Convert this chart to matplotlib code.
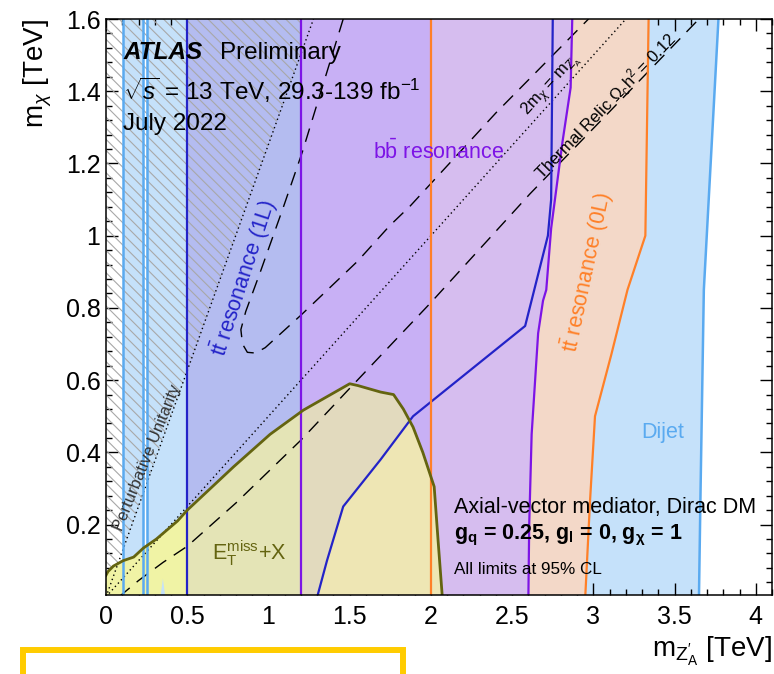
import numpy as np
import matplotlib
matplotlib.use("Agg")
import matplotlib.pyplot as plt
from matplotlib.patches import Polygon, Rectangle
from matplotlib.ticker import MultipleLocator, FuncFormatter

plt.rcParams['font.family'] = ['Liberation Sans', 'DejaVu Sans']
plt.rcParams['mathtext.fontset'] = 'custom'
plt.rcParams['mathtext.rm'] = 'Liberation Sans'
plt.rcParams['mathtext.it'] = 'Liberation Sans:italic'
plt.rcParams['mathtext.bf'] = 'Liberation Sans:bold'
plt.rcParams['hatch.linewidth'] = 0.8

# exclusion boundaries in TeV
# dijet: narrow band at low mass plus the wide band
dijet_band_low = [0.105, 0.23]
dijet_left = 0.25
dijet_right_y = [0.0, 0.3, 0.85, 1.6]
dijet_right_x = [3.65, 3.66, 3.68, 3.77]
dijet_spike_x = [0.335, 0.35, 0.365]
dijet_spike_y = [0.0, 0.05, 0.0]

# ttbar resonance (1L)
tt1l_left = 0.5
tt1l_y = [0.0, 0.05, 0.10, 0.16, 0.25, 0.38, 0.50, 0.75, 1.0, 1.1, 1.6]
tt1l_x = [1.30, 1.33, 1.36, 1.40, 1.46, 1.69, 1.89, 2.58, 2.72, 2.74, 2.75]

# bb resonance
bb_left = 1.2
bb_y = [0.0, 0.2, 0.45, 0.73, 0.82, 0.85, 1.02, 1.26, 1.41, 1.6]
bb_x = [2.60, 2.605, 2.62, 2.66, 2.69, 2.71, 2.74, 2.81, 2.86, 2.87]

# ttbar resonance (0L)
tt0l_left = 2.0
tt0l_y = [0.0, 0.27, 0.5, 0.67, 0.85, 1.0, 1.6]
tt0l_x = [2.95, 2.98, 3.01, 3.11, 3.21, 3.32, 3.34]

# ETmiss + X
met_x = [0.0, 0.012, 0.045, 0.105, 0.17, 0.23, 0.31, 0.44, 0.5, 0.785, 1.01,
         1.215, 1.5, 1.55, 1.69, 1.77, 1.83, 1.89, 1.95, 2.02, 2.045, 2.07]
met_y = [0.06, 0.07, 0.085, 0.10, 0.11, 0.135, 0.16, 0.21, 0.24, 0.36, 0.45,
         0.517, 0.59, 0.585, 0.567, 0.56, 0.52, 0.47, 0.40, 0.305, 0.15, 0.0]

# reference lines
unit_x = [0.0, 1.277]        # perturbative unitarity
unit_y = [0.0, 1.6]
mass_x = [0.0, 3.2]          # 2 m_chi = m_Z'
mass_y = [0.0, 1.6]
relic1_x = [1.46, 1.21, 1.09, 0.95, 0.86, 0.83, 0.84, 0.87, 0.92, 0.98, 1.2,
            1.55, 1.745, 1.874, 2.4, 2.97]
relic1_y = [1.6, 1.234, 1.077, 0.90, 0.79, 0.74, 0.70, 0.677, 0.675, 0.69, 0.78,
            0.93, 1.027, 1.083, 1.34, 1.6]
relic2_x = [0.08, 0.2, 0.35, 0.5, 0.8, 1.2, 1.535, 2.0, 2.61, 3.2, 3.65]
relic2_y = [0.0, 0.045, 0.095, 0.14, 0.26, 0.434, 0.594, 0.815, 1.116, 1.39, 1.6]

c_dijet = '#c5e1fa'
c_1l = '#b4bcf0'
c_bb = '#c8b0f5'
c_0l = '#f3d8c8'
c_0l_bb = '#d6bdef'
c_met = '#f0f3a5'
c_met_1l = '#e4e4b6'
c_met_bb = '#eee6b4'
c_met_bb_1l = '#e2dabe'

l_dijet = '#5aaaf0'
l_1l = '#2323c8'
l_bb = '#7d14e6'
l_0l = '#ff8028'
l_met = '#646410'


def band(left, xs, ys):
    # region between a vertical line and a boundary curve
    return [(left, ys[0])] + list(zip(xs, ys)) + [(left, ys[-1])]


fig = plt.figure(figsize=(7.74, 6.74), dpi=100)
ax = fig.add_axes([0.137, 0.1172, 0.8605, 0.8546])
ax.set_xlim(0, 4.1)
ax.set_ylim(0.005, 1.6)

# fills
ymax = dijet_right_y[-1]
ax.add_patch(Polygon(band(dijet_band_low[0], [dijet_band_low[1]] * 2, [0, ymax]),
                     fc=c_dijet, lw=0, zorder=1))
ax.add_patch(Polygon(band(dijet_left, dijet_right_x, dijet_right_y), fc=c_dijet, lw=0, zorder=1))
p1l = ax.add_patch(Polygon(band(tt1l_left, tt1l_x, tt1l_y), fc=c_1l, lw=0, zorder=2))
ax.fill_betweenx(unit_y, 0, unit_x, facecolor='none', edgecolor='#a8a8a8',
                 hatch='\\\\\\', lw=0, zorder=3)
pbb = ax.add_patch(Polygon(band(bb_left, bb_x, bb_y), fc=c_bb, lw=0, zorder=4))
ax.add_patch(Polygon(band(tt0l_left, tt0l_x, tt0l_y), fc=c_0l, lw=0, zorder=5))
ax.add_patch(Polygon(band(tt0l_left, bb_x, bb_y), fc=c_0l_bb, lw=0, zorder=5))

met_verts = [(0, 0)] + list(zip(met_x, met_y))
ax.add_patch(Polygon(met_verts, fc=c_met, lw=0, zorder=6))
m1 = ax.add_patch(Polygon(met_verts, fc=c_met_1l, lw=0, zorder=6.1))
m1.set_clip_path(p1l)
m2 = ax.add_patch(Polygon(met_verts, fc=c_met_bb, lw=0, zorder=6.2))
m2.set_clip_path(pbb)
clip_bb1l = Polygon(band(bb_left, tt1l_x, tt1l_y), transform=ax.transData)
m3 = ax.add_patch(Polygon(met_verts, fc=c_met_bb_1l, lw=0, zorder=6.3))
m3.set_clip_path(clip_bb1l)
ax.fill(dijet_spike_x, dijet_spike_y, color=c_dijet, lw=0, zorder=6.5)

# reference lines
dash = (0, (10, 6.5))
dot = (0, (1, 2.2))
ax.plot(unit_x, unit_y, color='k', lw=1, ls=dot, zorder=7)
ax.plot(mass_x, mass_y, color='k', lw=1, ls=dot, zorder=7)
ax.plot(relic1_x, relic1_y, color='k', lw=1, ls=dash, zorder=7)
ax.plot(relic2_x, relic2_y, color='k', lw=1, ls=dash, zorder=7)

# limit lines
for xv in dijet_band_low + [dijet_left]:
    ax.axvline(xv, color=l_dijet, lw=1.8, zorder=8)
ax.plot(dijet_right_x, dijet_right_y, color=l_dijet, lw=1.8, zorder=8)
ax.axvline(tt1l_left, color=l_1l, lw=1.6, zorder=8)
ax.plot(tt1l_x, tt1l_y, color=l_1l, lw=1.6, zorder=8)
ax.axvline(bb_left, color=l_bb, lw=1.6, zorder=8)
ax.plot(bb_x, bb_y, color=l_bb, lw=1.6, zorder=8)
ax.axvline(tt0l_left, color=l_0l, lw=1.6, zorder=8)
ax.plot(tt0l_x, tt0l_y, color=l_0l, lw=1.6, zorder=8)
ax.plot(met_x, met_y, color=l_met, lw=2, zorder=8)

# axes styling
ax.xaxis.set_major_locator(MultipleLocator(0.5))
ax.xaxis.set_minor_locator(MultipleLocator(0.1))
ax.yaxis.set_major_locator(MultipleLocator(0.2))
ax.yaxis.set_minor_locator(MultipleLocator(0.04))
fmt = FuncFormatter(lambda v, p: f"{v:g}")
ax.xaxis.set_major_formatter(fmt)
ax.yaxis.set_major_formatter(fmt)
ax.tick_params(which='both', direction='in', top=True, right=True, width=1, labelsize=18)
ax.tick_params(which='major', length=8.6)
ax.tick_params(which='minor', length=4.3)
ax.tick_params(axis='x', pad=7)
ax.tick_params(axis='y', pad=4)
for s in ax.spines.values():
    s.set_linewidth(1.1)
    s.set_zorder(20)

ax.set_ylabel(r"m$_{\chi}$ [TeV]", fontsize=20, loc='top', labelpad=8)
ax.set_xlabel(r"m$_{\mathrm{Z}^{\prime}_{\mathrm{A}}}$ [TeV]", fontsize=20, loc='right', labelpad=4)

# labels
tz = 10
ax.text(0.105, 1.488, "ATLAS", fontsize=17.5, fontweight='bold', style='italic', zorder=tz)
ax.text(0.703, 1.488, "Preliminary", fontsize=17.5, zorder=tz)
ax.text(0.105, 1.377, r"$\sqrt{s}$ = 13 TeV, 29.3-139 fb$^{-1}$", fontsize=17.5, zorder=tz)
ax.text(0.105, 1.294, "July 2022", fontsize=17.5, zorder=tz)

ax.text(1.646, 1.212, r"b$\mathrm{\bar{b}}$ resonance", color=l_bb, fontsize=15.5, zorder=tz)
ax.text(0.85, 0.882, r"t$\mathrm{\bar{t}}$ resonance (1L)", color=l_1l, fontsize=15.5,
        rotation=72, ha='center', va='center', rotation_mode='anchor', zorder=tz)
ax.text(2.965, 0.90, r"t$\mathrm{\bar{t}}$ resonance (0L)", color=l_0l, fontsize=15.5,
        rotation=78, ha='center', va='center', rotation_mode='anchor', zorder=tz)
ax.text(3.292, 0.44, "Dijet", color=l_dijet, fontsize=15.5, zorder=tz)
ax.text(0.654, 0.103, r"E$_{\mathrm{T}}^{\mathrm{miss}}$+X", color=l_met, fontsize=15.5, zorder=tz)
ax.text(0.256, 0.386, "Perturbative Unitarity", color='#333333', fontsize=12,
        rotation=68, ha='center', va='center', rotation_mode='anchor', zorder=tz)
ax.text(2.737, 1.417, r"2m$_{\chi}$ = m$_{\mathrm{Z}^{\prime}_{\mathrm{A}}}$", fontsize=12,
        rotation=48, ha='center', va='center', rotation_mode='anchor', zorder=tz)
ax.text(3.076, 1.359, r"Thermal Relic $\Omega_{\mathrm{c}}$h$^{2}$ = 0.12", fontsize=12,
        rotation=46, ha='center', va='center', rotation_mode='anchor', zorder=tz)

ax.text(2.139, 0.233, "Axial-vector mediator, Dirac DM", fontsize=15.5, zorder=tz)
ax.text(2.139, 0.159, r"g$_{\mathbf{q}}$ = 0.25, g$_{\mathbf{l}}$ = 0, g$_{\mathbf{\chi}}$ = 1",
        fontsize=15.5, fontweight='bold', zorder=tz)
ax.text(2.139, 0.062, "All limits at 95% CL", fontsize=12.3, zorder=tz)

# yellow frame peeking in at the bottom
fig.patches.append(Rectangle((23 / 774, -0.05), 380 / 774, 0.05 + 24 / 674,
                             transform=fig.transFigure, fill=False,
                             ec='#ffcc00', lw=4.3))

fig.savefig("out.png", dpi=100)
